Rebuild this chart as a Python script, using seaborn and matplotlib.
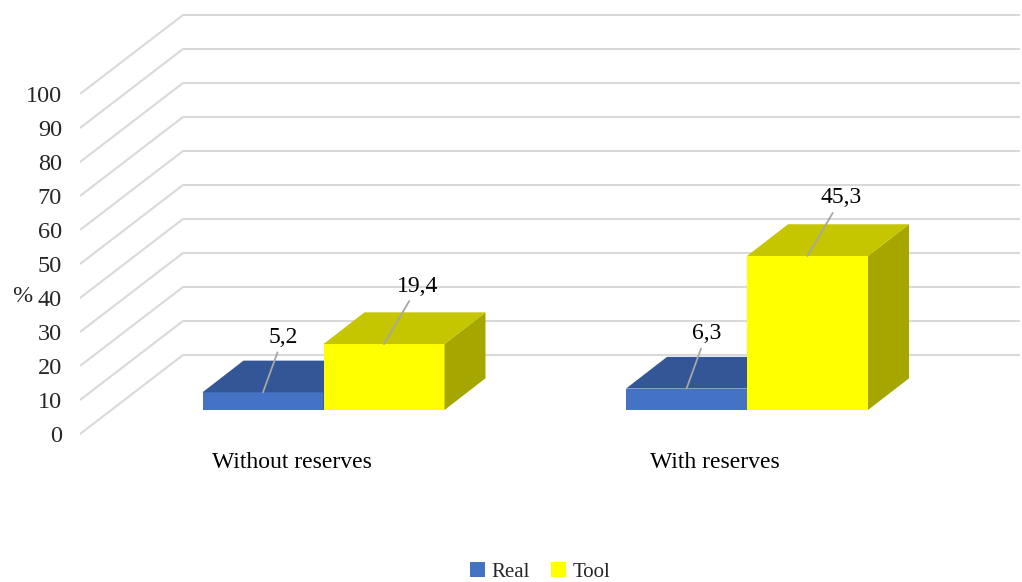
import matplotlib
matplotlib.use("Agg")
import matplotlib.pyplot as plt
from matplotlib.patches import Polygon
import seaborn as sns
import pandas as pd

# ---------------- data ----------------
categories = ["Without reserves", "With reserves"]
series = ["Real", "Tool"]
real_values = [5.2, 6.3]
tool_values = [19.4, 45.3]
value_labels_real = ["5,2", "6,3"]
value_labels_tool = ["19,4", "45,3"]
y_ticks = [0, 10, 20, 30, 40, 50, 60, 70, 80, 90, 100]
y_axis_title = "%"

df = pd.DataFrame({
    "scenario": categories * 2,
    "series": [series[0]] * len(categories) + [series[1]] * len(categories),
    "value": real_values + tool_values,
})

# ---------------- style ----------------
sns.set_style("white")
plt.rcParams["font.family"] = ["Liberation Serif", "DejaVu Serif"]

front_colors = {"Real": "#4472C4", "Tool": "#FFFF00"}
top_colors = {"Real": "#335796", "Tool": "#C6C600"}
side_colors = {"Real": "#2A4A80", "Tool": "#A6A600"}
label_offsets = {"Real": (20, 55), "Tool": (34, 58)}   # px, label centre vs bar top
grid_color = "#D9D9D9"

W, H = 1022, 582
fig = plt.figure(figsize=(W / 100, H / 100), dpi=100)

# pixel geometry of the pseudo-3D projection
px_left = 80
ax = fig.add_axes([px_left / W, 0, (W - px_left) / W, 1])
x0_px, x_unit = 323.5, 423.5      # category 0 centre, px per category
y0_px, y_unit = 410.0, 3.40       # bar baseline, px per value unit
bar_px = 121.0                    # width of one bar in px


def px_to_x(p):
    return (p - x0_px) / x_unit


xlim = (px_to_x(px_left), px_to_x(W))
ylim = ((y0_px - H) / y_unit, y0_px / y_unit)
ax.set_xlim(*xlim)
ax.set_ylim(*ylim)

# projection offsets (data units)
bar_dx, bar_dy = 41 / x_unit, 31.7 / y_unit          # bar depth
front_dx, front_dy = -31.7 / x_unit, -24.0 / y_unit  # front plane vs bar plane
back_dx, back_dy = 71.3 / x_unit, 55.0 / y_unit      # back wall vs bar plane

# ---------------- back wall gridlines ----------------
right_x = px_to_x(1020)
for v in y_ticks:
    ax.plot([px_to_x(80), px_to_x(80) + (back_dx - front_dx), right_x],
            [v + front_dy, v + back_dy, v + back_dy],
            color=grid_color, lw=1.5, zorder=0, solid_capstyle="butt")

# ---------------- bars (front faces) ----------------
sns.barplot(data=df, x="scenario", y="value", hue="series", order=categories,
            hue_order=series, palette=[front_colors[s] for s in series],
            saturation=1, width=2 * bar_px / x_unit,
            linewidth=0, errorbar=None, ax=ax)

ax.set_xlim(*xlim)
ax.set_ylim(*ylim)

# ---------------- 3D top and side faces ----------------
bars = [p for p in ax.patches if p.get_height() > 0]
label_lookup = {}
for s, vals, labs in [("Real", real_values, value_labels_real),
                      ("Tool", tool_values, value_labels_tool)]:
    for v, lab in zip(vals, labs):
        label_lookup[(s, round(v, 3))] = lab

n = len(categories)
for i, bar in enumerate(bars):
    s = series[i // n]
    z = 2 + series.index(s)
    bar.set_zorder(z)
    x, w, h = bar.get_x(), bar.get_width(), bar.get_height()
    top = Polygon([(x, h), (x + w, h), (x + w + bar_dx, h + bar_dy), (x + bar_dx, h + bar_dy)],
                  closed=True, facecolor=top_colors[s], edgecolor="none", zorder=z)
    side = Polygon([(x + w, 0), (x + w + bar_dx, bar_dy), (x + w + bar_dx, h + bar_dy), (x + w, h)],
                   closed=True, facecolor=side_colors[s], edgecolor="none", zorder=z)
    ax.add_patch(side)
    ax.add_patch(top)
    lab = label_lookup[(s, round(h, 3))]
    ax.annotate(lab, xy=(x + w / 2, h), xytext=label_offsets[s], textcoords="offset pixels",
                ha="center", va="center", fontsize=17, color="black", zorder=10,
                arrowprops=dict(arrowstyle="-", color="#A6A6A6", lw=1.3,
                                shrinkA=1, shrinkB=0))

# ---------------- axes ----------------
ax.set_yticks([v + front_dy for v in y_ticks])
ax.set_yticklabels([str(v) for v in y_ticks], fontsize=17.5)
ax.tick_params(axis="y", length=0, pad=13)
ax.set_xticks([])
ax.set_xlabel("")
ax.set_ylabel("")
for sp in ax.spines.values():
    sp.set_visible(False)
ax.patch.set_alpha(0)

for i, c in enumerate(categories):
    ax.text(i + front_dx, (y0_px - 462) / y_unit, c, ha="center", va="center",
            fontsize=17, color="black")

fig.text(22 / W, 1 - 297 / H, y_axis_title, ha="center", va="center", fontsize=17.5)

handles, labels = ax.get_legend_handles_labels()
ax.legend(handles, labels, loc="center", bbox_to_anchor=(540 / W, 1 - 572 / H),
          bbox_transform=fig.transFigure, ncol=2, frameon=False, fontsize=15,
          handlelength=0.75, handleheight=0.75, handletextpad=0.3, columnspacing=1.0)

fig.savefig("out.png", dpi=100)
